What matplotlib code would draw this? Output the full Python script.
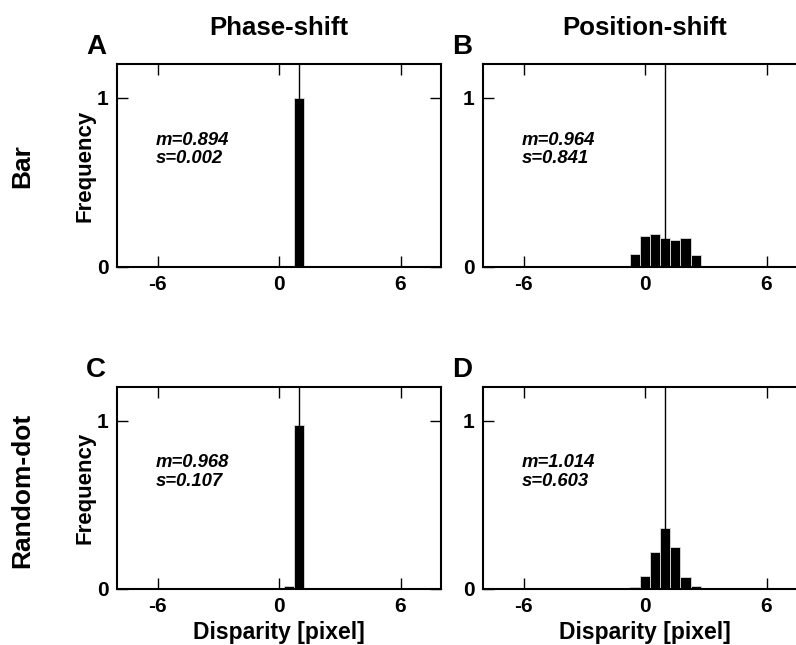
import numpy as np
import matplotlib
matplotlib.use('Agg')
import matplotlib.pyplot as plt

plt.rcParams['font.family'] = ['Liberation Sans', 'DejaVu Sans']
plt.rcParams['font.weight'] = 'bold'
plt.rcParams['axes.unicode_minus'] = False

# bin centres (pixel) and frequencies
centres_A = [1.0]
freq_A = [1.0]

centres_B = [-0.5, 0.0, 0.5, 1.0, 1.5, 2.0, 2.5]
freq_B = [0.075, 0.184, 0.194, 0.172, 0.162, 0.170, 0.073]

centres_C = [0.5, 1.0, 1.5]
freq_C = [0.016, 0.976, 0.006]

centres_D = [-1.5, -1.0, -0.5, 0.0, 0.5, 1.0, 1.5, 2.0, 2.5, 3.0, 3.5]
freq_D = [0.002, 0.002, 0.012, 0.075, 0.218, 0.361, 0.250, 0.069, 0.018, 0.003, 0.002]

stats = [("m=0.894", "s=0.002"), ("m=0.964", "s=0.841"),
         ("m=0.968", "s=0.107"), ("m=1.014", "s=0.603")]
letters = ["A", "B", "C", "D"]
true_disp = 1.0
bin_w = 0.5

W, H = 796, 645
fig = plt.figure(figsize=(W/100, H/100), dpi=100)

def px_axes(left, top, w, h):
    return fig.add_axes([left/W, 1 - (top + h)/H, w/W, h/H])

rects = [(117, 64, 324, 203), (483, 64, 324, 203),
         (117, 387, 324, 202), (483, 387, 324, 202)]
data = [(centres_A, freq_A), (centres_B, freq_B),
        (centres_C, freq_C), (centres_D, freq_D)]

for i in range(4):
    ax = px_axes(*rects[i])
    c, f = data[i]
    ax.bar(c, f, width=bin_w, color='black', edgecolor='#dddddd', linewidth=0.6, zorder=2)
    ax.axvline(true_disp, color='black', linewidth=1.0, zorder=3)
    ax.set_xlim(-8, 8)
    ax.set_ylim(0, 1.2)
    ax.set_xticks([-6, 0, 6])
    ax.set_yticks([0, 1])
    ax.tick_params(direction='in', top=True, right=True, length=8, width=1,
                   labelsize=15, pad=6)
    for s in ax.spines.values():
        s.set_linewidth(1.5)
    ax.text(-6.1, 0.80, stats[i][0] + "\n" + stats[i][1], style='italic',
            fontweight='bold', fontsize=13.3, va='top', ha='left', linespacing=1.1)
    ax.text(-0.065, 1.02, letters[i], transform=ax.transAxes, fontsize=20,
            fontweight='bold', ha='center', va='bottom')
    if i % 2 == 0:
        ax.set_ylabel("Frequency", fontsize=16, fontweight='bold', labelpad=1)
    if i >= 2:
        ax.set_xlabel("Disparity [pixel]", fontsize=16.5, fontweight='bold', labelpad=3)
    if i == 0:
        ax.set_title("Phase-shift", fontsize=18.5, fontweight='bold', pad=21)
    if i == 1:
        ax.set_title("Position-shift", fontsize=18.5, fontweight='bold', pad=21)

fig.text(22/W, 1 - 166/H, "Bar", rotation=90, fontsize=19, fontweight='bold',
         ha='center', va='center')
fig.text(22/W, 1 - 490/H, "Random-dot", rotation=90, fontsize=19, fontweight='bold',
         ha='center', va='center')

fig.savefig("out.png", dpi=100)
